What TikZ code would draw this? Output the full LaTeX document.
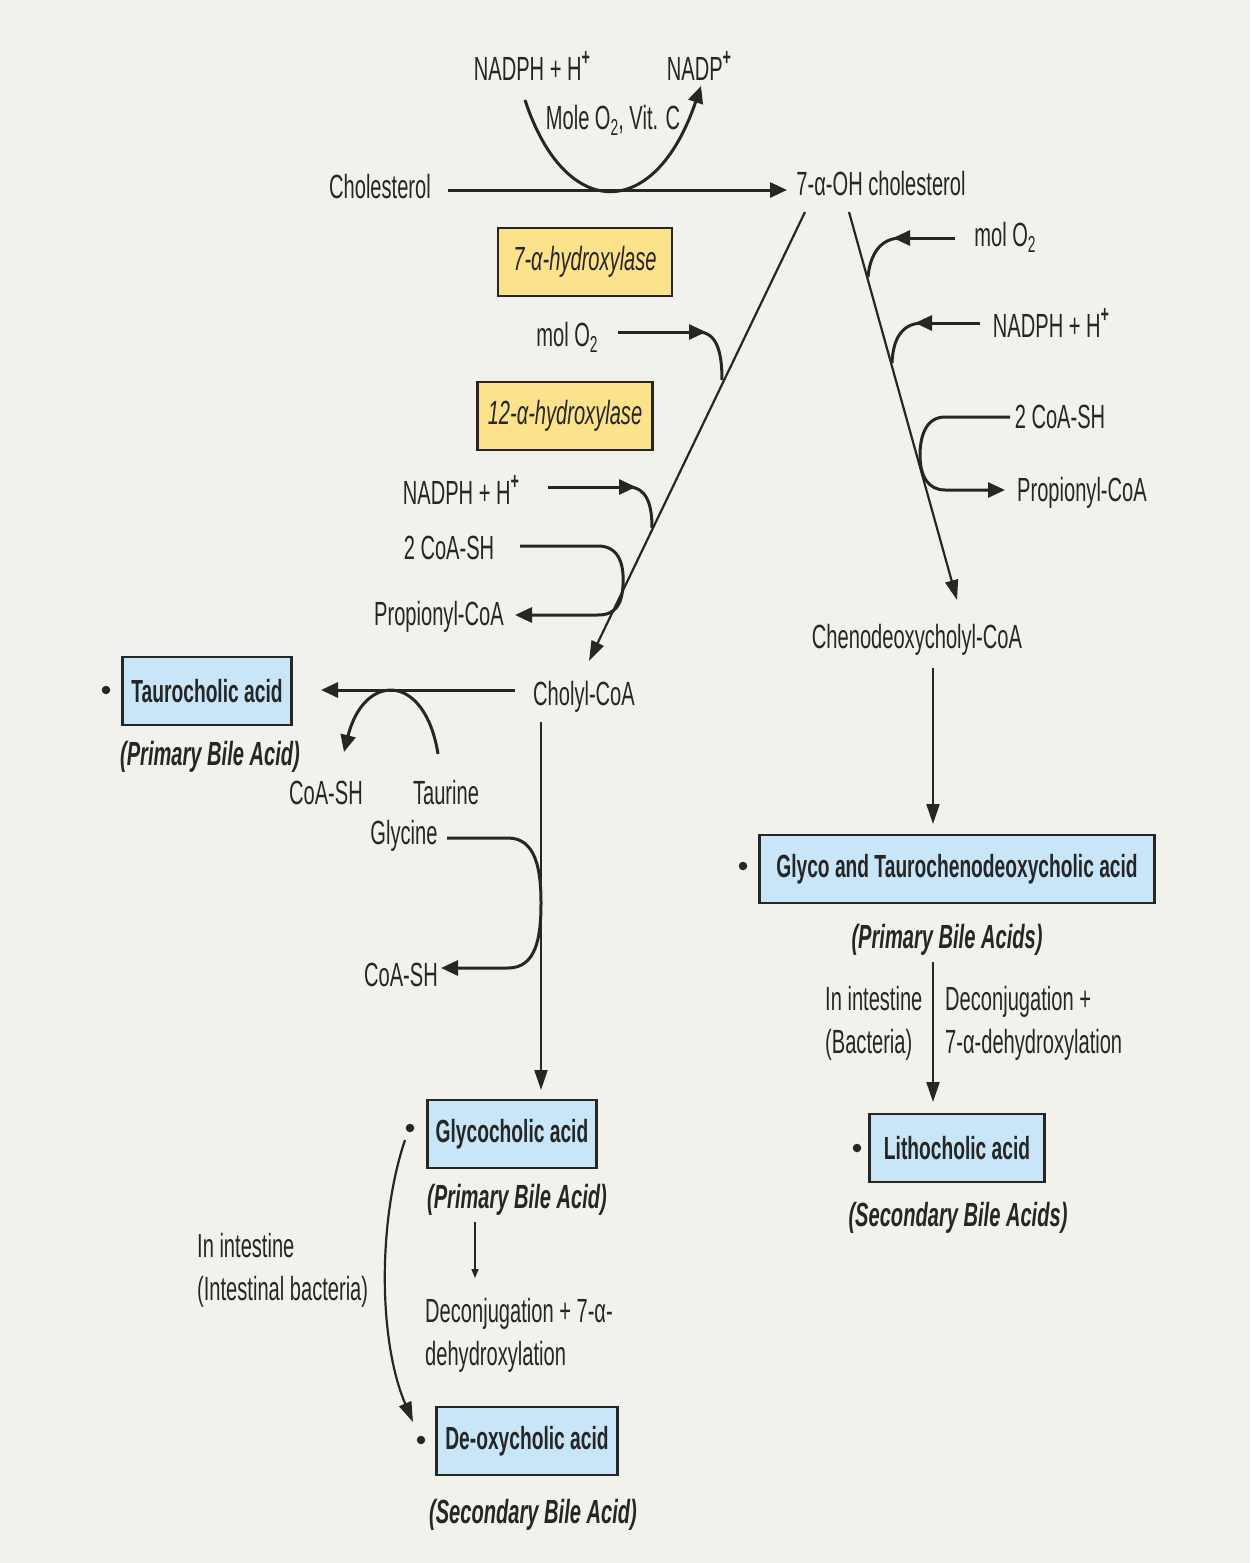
\documentclass[tikz,border=0pt]{standalone}
\usepackage{fontspec}
\setmainfont{Liberation Sans}[FakeStretch=0.6]
\usetikzlibrary{arrows.meta}
\definecolor{bg}{HTML}{F2F2EC}
\definecolor{ink}{HTML}{262626}
\definecolor{yel}{HTML}{FDE28C}
\definecolor{blu}{HTML}{C8E6F8}
\newcommand{\sbs}[1]{\raisebox{-0.35ex}{\fontsize{23}{23}\selectfont #1}}
\newcommand{\sps}[1]{\raisebox{0.85ex}{\fontsize{24}{24}\selectfont\bfseries #1}}
\begin{document}
\begin{tikzpicture}[x=1pt,y=-1pt,
  lbl/.style={inner sep=0pt, text=ink, font=\fontsize{33.5}{43}\selectfont},
  ttl/.style={inner sep=0pt, text=ink, font=\fontsize{33.5}{43}\selectfont\bfseries\itshape},
  enzbox/.style={draw=ink, line width=2.5pt, fill=yel, text=ink, inner sep=0pt, minimum height=68pt, font=\fontsize{33.5}{43}\selectfont\itshape},
  acidbox/.style={draw=ink, line width=2.5pt, fill=blu, text=ink, inner sep=0pt, minimum height=68pt, font=\fontsize{32}{43}\selectfont\bfseries},
  dot/.style={circle, fill=ink, inner sep=0pt, minimum size=8.5pt},
  thk/.style={draw=ink, line width=3pt},
  thn/.style={draw=ink, line width=2.2pt},
  tip/.style={-{Triangle[length=17pt,width=15pt]}},
  stip/.style={-{Triangle[length=20pt,width=13pt]}},
]
\useasboundingbox (0,0) rectangle (1250,1563);
\fill[bg] (0,0) rectangle (1250,1563);

% ---- top reaction
\node[lbl] (nadphA) at (532,66) {NADPH + H\sps{+}};
\node[lbl] (nadp) at (699,66) {NADP\sps{+}};
\node[lbl] (mole) at (613,120) {Mole O\sbs{2}, Vit. C};
\node[lbl] (chol) at (380,187) {Cholesterol};
\node[lbl] (ohchol) at (881,184) {7-α-OH cholesterol};
\coordinate (hA) at (448,190);
\coordinate (hB) at (787,190);
\draw[thk,tip] (hA) -- (hB);
\coordinate (cA) at (525,100);
\coordinate (cB) at (701,86);
\draw[thk,tip] (cA) .. controls (565,222) and (655,222) .. (cB);

\node[enzbox, minimum width=174pt] (enz7) at (585,262) {7-α-hydroxylase};
\node[enzbox, minimum width=175pt] (enz12) at (565,416) {12-α-hydroxylase};

% ---- left diagonal
\coordinate (dA) at (805,212);
\coordinate (dB) at (589,661);
\draw[thn,stip] (dA) -- (dB);

\node[lbl] (molL) at (567,337) {mol O\sbs{2}};
\coordinate (m1) at (618,332);
\coordinate (m2) at (706,332);
\draw[thk,tip] (m1) -- (m2);
\draw[thk] (698,332) .. controls (716,332) and (722,350) .. (722,380);

\node[lbl] (nadphB) at (461,490) {NADPH + H\sps{+}};
\coordinate (n1) at (548,487);
\coordinate (n2) at (636,487);
\draw[thk,tip] (n1) -- (n2);
\draw[thk] (628,487) .. controls (647,487) and (652,505) .. (652,528);

\node[lbl] (coaL) at (449,548) {2 CoA-SH};
\node[lbl] (propL) at (439,617) {Propionyl-CoA};
\coordinate (k1) at (520,546);
\coordinate (k2) at (515,615);
\draw[thk,tip] (k1) -- (598,546) .. controls (621,546) and (624,568) .. (623,585) .. controls (622,604) and (616,615) .. (598,615) -- (k2);

\node[lbl] (cholyl) at (584,697) {Cholyl-CoA};

% ---- taurocholic
\node[acidbox, minimum width=169pt] (tauro) at (207,691) {Taurocholic acid};
\node[dot] (dtauro) at (106,690) {};
\node[ttl] (pbaT) at (210,757) {(Primary Bile Acid)};
\coordinate (t1) at (515,690);
\coordinate (t2) at (321,690);
\draw[thk,tip] (t1) -- (t2);
\node[lbl] (coaT) at (326,793) {CoA-SH};
\node[lbl] (taurine) at (446,793) {Taurine};
\coordinate (u1) at (438,754);
\coordinate (u2) at (344,752);
\draw[thk,tip] (u1) .. controls (425,672) and (364,672) .. (u2);

% ---- glycine
\coordinate (v1) at (541,722);
\coordinate (v2) at (541,1090);
\draw[thn,stip] (v1) -- (v2);
\node[lbl] (glycine) at (404,836) {Glycine};
\node[lbl] (coaG) at (401,975) {CoA-SH};
\coordinate (g1) at (447,838);
\coordinate (g2) at (441,968);
\draw[thk,tip] (g1) -- (508,838) .. controls (536,838) and (541,870) .. (541,903) .. controls (541,938) and (536,968) .. (508,968) -- (g2);

% ---- glycocholic / deoxycholic
\node[acidbox, minimum width=169pt] (glyco) at (512,1134) {Glycocholic acid};
\node[dot] (dglyco) at (410,1128) {};
\node[ttl] (pbaG) at (517,1200) {(Primary Bile Acid)};
\coordinate (s1) at (475,1222);
\coordinate (s2) at (475,1278);
\draw[draw=ink, line width=1.6pt, -{Triangle[length=9pt,width=7pt]}] (s1) -- (s2);
\node[lbl, align=left, anchor=west] (deconA) at (425,1335) {Deconjugation + 7-α-\\dehydroxylation};
\node[lbl, align=left, anchor=west] (intA) at (197,1270) {In intestine\\(Intestinal bacteria)};
\coordinate (b1) at (405,1140);
\coordinate (b2) at (413,1422);
\draw[thn,stip] (b1) .. controls (378,1220) and (378,1340) .. (b2);
\node[acidbox, minimum width=181pt] (deoxy) at (527,1441) {De-oxycholic acid};
\node[dot] (ddeoxy) at (421,1440) {};
\node[ttl] (sbaD) at (533,1515) {(Secondary Bile Acid)};

% ---- right diagonal
\coordinate (rA) at (849,212);
\coordinate (rB) at (957,600);
\draw[thn,stip] (rA) -- (rB);
\node[lbl] (molR) at (1005,237) {mol O\sbs{2}};
\coordinate (p1) at (955,238);
\coordinate (p2) at (893,238);
\draw[thk,tip] (p1) -- (p2);
\draw[thk] (901,238) .. controls (880,238) and (870,255) .. (868,277);
\node[lbl] (nadphC) at (1051,323) {NADPH + H\sps{+}};
\coordinate (q1) at (980,323);
\coordinate (q2) at (915,323);
\draw[thk,tip] (q1) -- (q2);
\draw[thk] (923,323) .. controls (901,323) and (893,340) .. (892,363);
\node[lbl] (coaR) at (1060,417) {2 CoA-SH};
\node[lbl] (propR) at (1082,493) {Propionyl-CoA};
\coordinate (w1) at (1010,417);
\coordinate (w2) at (1005,490);
\draw[thk,tip] (w1) -- (945,417) .. controls (925,417) and (920,438) .. (920,455) .. controls (920,476) and (928,490) .. (945,490) -- (w2);

\node[lbl] (cheno) at (917,640) {Chenodeoxycholyl-CoA};
\coordinate (x1) at (933,668);
\coordinate (x2) at (933,824);
\draw[thn,stip] (x1) -- (x2);

\node[acidbox, minimum width=395pt] (gt) at (957,869) {Glyco and Taurochenodeoxycholic acid};
\node[dot] (dgt) at (743,866) {};
\node[ttl] (pbaR) at (947,940) {(Primary Bile Acids)};
\coordinate (y1) at (933,962);
\coordinate (y2) at (933,1102);
\draw[thn,stip] (y1) -- (y2);
\node[lbl, align=left, anchor=west] (bact) at (825,1023) {In intestine\\(Bacteria)};
\node[lbl, align=left, anchor=west] (deconB) at (945,1023) {Deconjugation +\\7-α-dehydroxylation};
\node[acidbox, minimum width=175pt] (litho) at (957,1148) {Lithocholic acid};
\node[dot] (dlitho) at (857,1148) {};
\node[ttl] (sbaR) at (958,1218) {(Secondary Bile Acids)};
\end{tikzpicture}
\end{document}
